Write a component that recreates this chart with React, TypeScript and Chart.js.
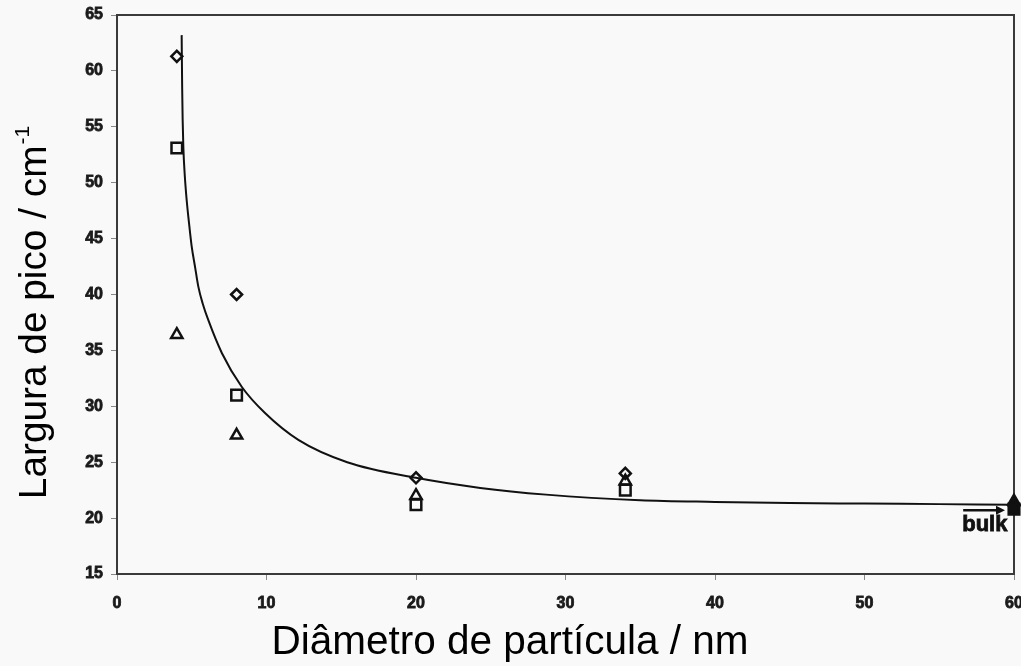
import React, { useEffect, useRef } from "react";
import { Chart, registerables } from "chart.js";

Chart.register(...registerables);

// ---- data ----
const DIAMETER_NM = [4, 8, 20, 34, 60];
const WIDTH_DIAMOND = [61.3, 40.0, 23.6, 24.0, 21.1];
const WIDTH_SQUARE = [53.1, 31.0, 21.2, 22.5, 20.8];
const WIDTH_TRIANGLE = [36.4, 27.4, 22.0, 23.3, 21.5];

const FIT_X = [4.325, 4.358, 4.392, 4.437, 4.526, 4.66, 4.816, 4.995, 5.217, 5.44, 5.73, 6.11, 7.02, 8.34, 9.9, 12.13, 15.4, 20, 24.3, 28.7, 35, 40, 45, 50, 55, 60];
const FIT_Y = [63.2, 58.6, 55.6, 53.2, 50.8, 48.45, 46.4, 44.3, 42.5, 40.7, 39.2, 37.7, 34.75, 31.75, 29.4, 27.0, 25.0, 23.6, 22.7, 22.1, 21.6, 21.45, 21.35, 21.3, 21.25, 21.2];

const X_MIN = 0;
const X_MAX = 60;
const X_STEP = 10;
const Y_MIN = 15;
const Y_MAX = 65;
const Y_STEP = 5;

const X_TITLE = "Diâmetro de partícula / nm";
const Y_TITLE = "Largura de pico / cm";
const Y_TITLE_SUP = "-1";

const BULK_ARROW_X = [56.6, 59.4];
const BULK_ARROW_Y = 20.7;
const BULK_LABEL = "bulk";
const BULK_LABEL_X = 58.05;
const BULK_LABEL_Y = 19.4;

const INK = "#111111";

const decorPlugin = {
  id: "decor",
  beforeDraw(chart: any) {
    const { ctx, width, height } = chart;
    ctx.save();
    ctx.fillStyle = "#f9f9f9";
    ctx.fillRect(0, 0, width, height);
    ctx.restore();
  },
  beforeDatasetsDraw(chart: any) {
    const { ctx, chartArea: a } = chart;
    ctx.save();
    ctx.strokeStyle = "#3a3a3a";
    ctx.lineWidth = 2;
    ctx.strokeRect(a.left, a.top, a.right - a.left, a.bottom - a.top);
    ctx.restore();
  },
  afterDraw(chart: any) {
    const { ctx } = chart;
    const xs = chart.scales.x;
    const ys = chart.scales.y;
    ctx.save();

    // bulk arrow
    const ax0 = xs.getPixelForValue(BULK_ARROW_X[0]);
    const ax1 = xs.getPixelForValue(BULK_ARROW_X[1]);
    const ay = ys.getPixelForValue(BULK_ARROW_Y);
    ctx.strokeStyle = INK;
    ctx.fillStyle = INK;
    ctx.lineWidth = 2.5;
    ctx.beginPath();
    ctx.moveTo(ax0, ay);
    ctx.lineTo(ax1 - 6, ay);
    ctx.stroke();
    ctx.beginPath();
    ctx.moveTo(ax1, ay);
    ctx.lineTo(ax1 - 9, ay - 4.5);
    ctx.lineTo(ax1 - 9, ay + 4.5);
    ctx.closePath();
    ctx.fill();

    ctx.font = 'bold 22px "Liberation Sans", Arial, sans-serif';
    ctx.textAlign = "center";
    ctx.textBaseline = "middle";
    ctx.lineWidth = 0.8;
    ctx.strokeText(BULK_LABEL, xs.getPixelForValue(BULK_LABEL_X), ys.getPixelForValue(BULK_LABEL_Y));
    ctx.fillText(BULK_LABEL, xs.getPixelForValue(BULK_LABEL_X), ys.getPixelForValue(BULK_LABEL_Y));

    // x title
    ctx.fillStyle = "#000";
    ctx.font = '40.5px "Liberation Sans", Arial, sans-serif';
    ctx.textAlign = "center";
    ctx.textBaseline = "alphabetic";
    ctx.fillText(X_TITLE, 510, 654);

    // y title (rotated) with superscript
    ctx.translate(46, 313);
    ctx.rotate(-Math.PI / 2);
    const mainFont = '38.8px "Liberation Sans", Arial, sans-serif';
    const supFont = '21px "Liberation Sans", Arial, sans-serif';
    ctx.font = mainFont;
    const wMain = ctx.measureText(Y_TITLE).width;
    ctx.font = supFont;
    const wSup = ctx.measureText(Y_TITLE_SUP).width;
    const start = -(wMain + wSup) / 2;
    ctx.textAlign = "left";
    ctx.font = mainFont;
    ctx.fillText(Y_TITLE, start, 0);
    ctx.font = supFont;
    ctx.fillText(Y_TITLE_SUP, start + wMain + 1, -17);

    ctx.restore();
  },
};

export default function App() {
  const canvasRef = useRef<HTMLCanvasElement | null>(null);

  useEffect(() => {
    const canvas = canvasRef.current;
    if (!canvas) return;
    const pts = (ys: number[]) => DIAMETER_NM.map((x, i) => ({ x, y: ys[i] }));
    const fill = (c: any) => (c.raw && c.raw.x >= 60 ? INK : "rgba(0,0,0,0)");
    const tickFont = { family: '"Liberation Sans", Arial, sans-serif', size: 16, weight: "bold" as const };

    const chart = new Chart(canvas, {
      type: "scatter",
      data: {
        datasets: [
          {
            label: "ajuste",
            data: FIT_X.map((x, i) => ({ x, y: FIT_Y[i] })),
            showLine: true,
            borderColor: INK,
            borderWidth: 2,
            pointRadius: 0,
            cubicInterpolationMode: "monotone",
            clip: false,
          } as any,
          {
            label: "losango",
            data: pts(WIDTH_DIAMOND),
            pointStyle: "rectRot",
            pointRadius: 5.5,
            pointBorderWidth: 2.5,
            pointBorderColor: INK,
            pointBackgroundColor: fill,
            clip: false,
          } as any,
          {
            label: "quadrado",
            data: pts(WIDTH_SQUARE),
            pointStyle: "rect",
            pointRadius: 7.5,
            pointBorderWidth: 2.5,
            pointBorderColor: INK,
            pointBackgroundColor: fill,
            clip: false,
          } as any,
          {
            label: "triângulo",
            data: pts(WIDTH_TRIANGLE),
            pointStyle: "triangle",
            pointRadius: 6.5,
            pointBorderWidth: 2.5,
            pointBorderColor: INK,
            pointBackgroundColor: fill,
            clip: false,
          } as any,
        ],
      },
      options: {
        animation: false,
        responsive: false,
        events: [],
        layout: { autoPadding: false, padding: { left: 0, right: 7, top: 15, bottom: 0 } },
        plugins: { legend: { display: false }, tooltip: { enabled: false } },
        scales: {
          x: {
            type: "linear",
            min: X_MIN,
            max: X_MAX,
            ticks: { stepSize: X_STEP, font: tickFont, color: "#1a1a1a", padding: 14, textStrokeColor: "#1a1a1a", textStrokeWidth: 0.8 },
            grid: { drawOnChartArea: false, drawTicks: true, tickLength: 6, color: "#888" },
            border: { display: false },
            afterFit: (s: any) => {
              s.height = 92;
              s.paddingLeft = 0;
              s.paddingRight = 0;
            },
          },
          y: {
            type: "linear",
            min: Y_MIN,
            max: Y_MAX,
            ticks: { stepSize: Y_STEP, font: tickFont, color: "#1a1a1a", padding: 8, textStrokeColor: "#1a1a1a", textStrokeWidth: 0.8 },
            grid: { drawOnChartArea: false, drawTicks: true, tickLength: 6, color: "#888" },
            border: { display: false },
            afterFit: (s: any) => {
              s.width = 117;
              s.paddingTop = 0;
              s.paddingBottom = 0;
            },
          },
        },
      },
      plugins: [decorPlugin],
    });
    return () => chart.destroy();
  }, []);

  return (
    <div style={{ position: "absolute", left: 0, top: 0, width: 1021, height: 666 }}>
      <canvas ref={canvasRef} width={1021} height={666} style={{ display: "block" }} />
    </div>
  );
}
